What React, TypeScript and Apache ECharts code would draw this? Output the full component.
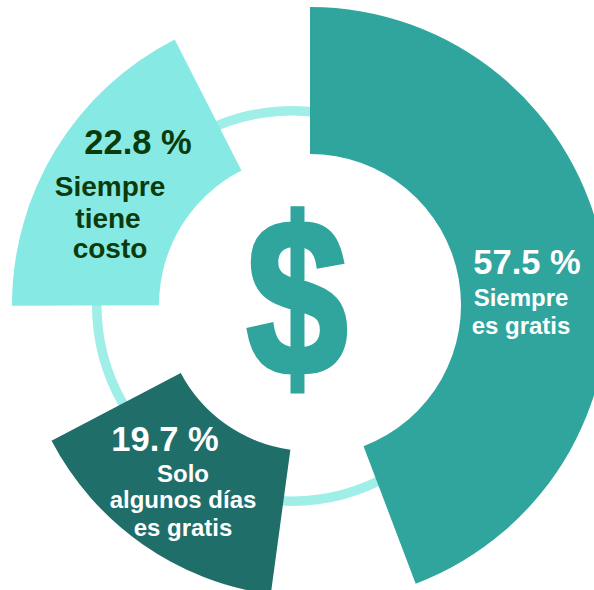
import React, { useEffect, useRef } from "react";
import * as echarts from "echarts";

const names = ["Siempre es gratis", "Solo algunos días es gratis", "Siempre tiene costo"];
const values = [57.5, 19.7, 22.8];
const gapValues = [10, 10.25, 9.75];
const colors = ["#2fa59d", "#1f6e6a", "#87e9e4"];
const percentLabels = ["57.5 %", "19.7 %", "22.8 %"];
const subLabels = [
  ["Siempre", "es gratis"],
  ["Solo", "algunos días", "es gratis"],
  ["Siempre", "tiene", "costo"],
];

const font = '"Liberation Sans", Arial, sans-serif';
const clear = "rgba(0,0,0,0)";

function label(text: string, x: number, y: number, size: number, fill: string, z = 10) {
  return {
    type: "text",
    x,
    y,
    z,
    style: { text, fontFamily: font, fontWeight: "bold", fontSize: size, fill, align: "center", verticalAlign: "middle" },
  };
}

// Each slice is followed by a transparent spacer, which gives the wide gaps of the reference.
function sliceData(visible: (i: number) => boolean) {
  return values.flatMap((v, i) => [
    { value: v, name: names[i], itemStyle: { color: visible(i) ? colors[i] : clear } },
    { value: gapValues[i], name: "gap" + i, itemStyle: { color: clear } },
  ]);
}

export default function App() {
  const ref = useRef<HTMLDivElement>(null);
  useEffect(() => {
    document.body.style.margin = "0";
    const chart = echarts.init(ref.current!, undefined, { renderer: "svg" });
    chart.setOption({
      animation: false,
      backgroundColor: "#ffffff",
      series: [
        {
          type: "pie",
          silent: true,
          z: 1,
          center: [292, 306],
          radius: [190.5, 200],
          label: { show: false },
          labelLine: { show: false },
          data: [{ value: 1, name: "ring", itemStyle: { color: "#a0eee8" } }],
        },
        {
          type: "pie",
          silent: true,
          z: 2,
          center: [310, 305],
          radius: [151, 298],
          startAngle: 90,
          label: { show: false },
          labelLine: { show: false },
          data: sliceData((i) => i !== 1),
        },
        {
          type: "pie",
          silent: true,
          z: 3,
          center: [310, 305],
          radius: [146, 292],
          startAngle: 89.2,
          label: { show: false },
          labelLine: { show: false },
          data: sliceData((i) => i === 1),
        },
      ],
      graphic: [
        {
          type: "text",
          x: 297,
          y: 297,
          z: 10,
          scaleX: 0.85,
          scaleY: 1.04,
          style: {
            text: "$",
            fontFamily: font,
            fontWeight: "bold",
            fontSize: 214,
            fill: "#2fa59d",
            stroke: "#2fa59d",
            lineWidth: 5,
            align: "center",
            verticalAlign: "middle",
          },
        },
        label(percentLabels[0], 527, 262, 34.5, "#ffffff"),
        label(subLabels[0][0], 521, 297, 24, "#ffffff"),
        label(subLabels[0][1], 521, 325, 24, "#ffffff"),
        label(percentLabels[1], 165, 439, 34.5, "#ffffff"),
        label(subLabels[1][0], 183, 473, 24, "#ffffff"),
        label(subLabels[1][1], 183, 499, 24, "#ffffff"),
        label(subLabels[1][2], 183, 527, 24, "#ffffff"),
        label(percentLabels[2], 138, 142, 34.5, "#0b3b0b"),
        label(subLabels[2][0], 110, 186, 28, "#0b3b0b"),
        label(subLabels[2][1], 108, 218, 28, "#0b3b0b"),
        label(subLabels[2][2], 110, 248, 28, "#0b3b0b"),
      ],
    });
    return () => chart.dispose();
  }, []);
  return <div ref={ref} style={{ width: 594, height: 590 }} />;
}
